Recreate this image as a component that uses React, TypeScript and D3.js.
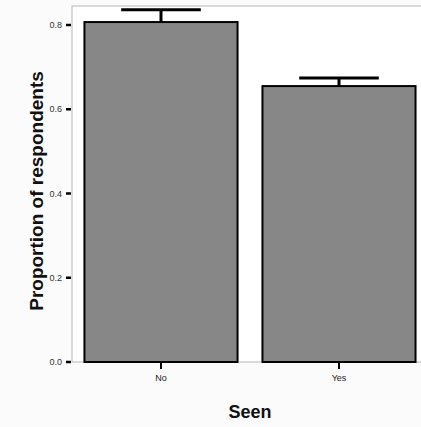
import React from "react";
import * as d3 from "d3";

const categories = ["No", "Yes"];
const proportions = [0.807, 0.655];
const upperErrors = [0.836, 0.674];
const yTicks = [0.0, 0.2, 0.4, 0.6, 0.8];

const W = 421;
const H = 427;
const FONT = "Liberation Sans, Arial, Helvetica, sans-serif";

export default function App() {
  const panelLeft = 72;
  const panelRight = 428;
  const panelTop = 6;
  const y0 = 362;
  const x = d3.scaleBand<string>().domain(categories).range([panelLeft, panelRight]).paddingInner(0.14).paddingOuter(0.07);
  const y = d3.scaleLinear().domain([0, 0.8]).range([y0, 25]);
  const bw = x.bandwidth();
  const ebw = bw * 0.52;
  return (
    <svg width={W} height={H} style={{ position: "absolute", left: 0, top: 0, background: "#fbfbfb" }}>
      <defs>
        <filter id="grain" x="0" y="0" width="100%" height="100%" colorInterpolationFilters="sRGB">
          <feTurbulence type="fractalNoise" baseFrequency="1.0" numOctaves="1" seed="5" result="n" />
          <feColorMatrix in="n" type="matrix"
            values="0.3 0 0 0 0.38  0.3 0 0 0 0.38  0.3 0 0 0 0.38  0 0 0 0 1" result="g" />
          <feComposite in="g" in2="SourceGraphic" operator="in" />
        </filter>
      </defs>
      <rect x={0} y={0} width={W} height={H} fill="#fbfbfb" />
      <rect x={panelLeft} y={panelTop} width={panelRight - panelLeft} height={y0 - panelTop} fill="#ffffff" stroke="#b8b8b8" strokeWidth={1} />
      {categories.map((c, i) => (
        <g key={c}>
          <rect x={x(c)} y={y(proportions[i])} width={bw} height={y0 - y(proportions[i])} fill="#888" filter="url(#grain)" />
          <rect x={x(c)} y={y(proportions[i])} width={bw} height={y0 - y(proportions[i])} fill="none" stroke="#000" strokeWidth={2} />
          <line x1={x(c)! + bw / 2} x2={x(c)! + bw / 2} y1={y(proportions[i])} y2={y(upperErrors[i])} stroke="#000" strokeWidth={3} />
          <line x1={x(c)! + bw / 2 - ebw / 2} x2={x(c)! + bw / 2 + ebw / 2} y1={y(upperErrors[i])} y2={y(upperErrors[i])} stroke="#000" strokeWidth={3} />
          <line x1={x(c)! + bw / 2} x2={x(c)! + bw / 2} y1={y0 + 1} y2={y0 + 7} stroke="#000" strokeWidth={2} />
          <text x={x(c)! + bw / 2} y={y0 + 19} textAnchor="middle" fontFamily={FONT} fontSize={9} fill="#222">{c}</text>
        </g>
      ))}
      {yTicks.map((t) => (
        <g key={t}>
          <line x1={66} x2={71} y1={y(t)} y2={y(t)} stroke="#000" strokeWidth={2.5} />
          <text x={62} y={y(t) + 3} textAnchor="end" fontFamily={FONT} fontSize={9} fill="#333">{t.toFixed(1)}</text>
        </g>
      ))}
      <text x={250} y={418} textAnchor="middle" fontFamily={FONT} fontWeight="bold" fontSize={18} fill="#111">Seen</text>
      <text transform={`translate(43,191) rotate(-90)`} textAnchor="middle" fontFamily={FONT} fontWeight="bold" fontSize={19} fill="#111">Proportion of respondents</text>
    </svg>
  );
}
